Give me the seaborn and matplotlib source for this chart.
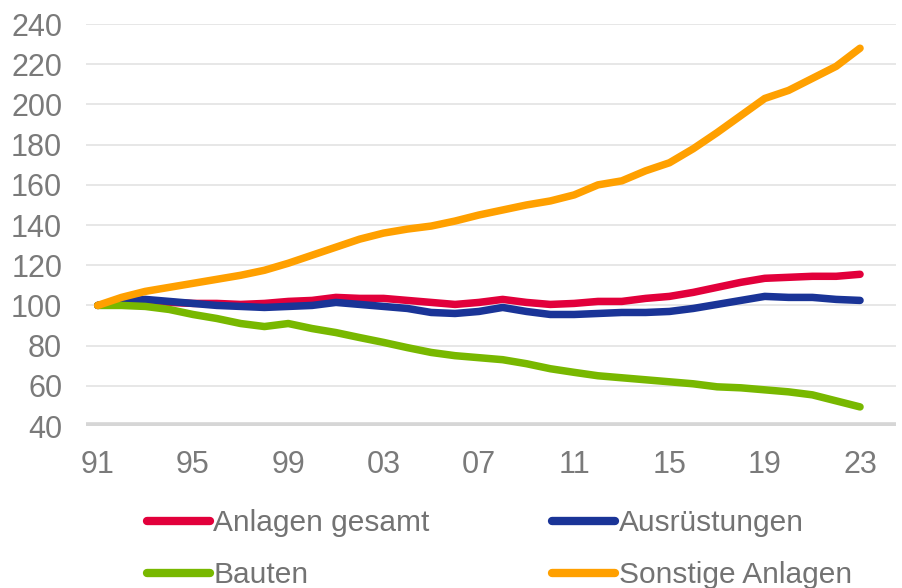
import matplotlib
matplotlib.use("Agg")
import matplotlib.pyplot as plt
import seaborn as sns
import pandas as pd

years = list(range(1991, 2024))

anlagen_gesamt = [100, 102, 102.5, 101.5, 101, 101, 100.5, 101, 102, 102.5, 104, 103.5, 103.5, 102.5,
                  101.5, 100.5, 101.5, 103, 101.5, 100.5, 101, 102, 102, 103.5, 104.5, 106.5, 109,
                  111.5, 113.5, 114, 114.5, 114.5, 115.5]
ausruestungen = [100, 102, 103, 102, 101, 100, 99.5, 99, 99.5, 100, 101.5, 100.5, 99.5, 98.5,
                 96.5, 96, 97, 99, 97, 95.5, 95.5, 96, 96.5, 96.5, 97, 98.5, 100.5,
                 102.5, 104.5, 104, 104, 103, 102.5]
bauten = [100, 100, 99.5, 98, 95.5, 93.5, 91, 89.5, 91, 88.5, 86.5, 84, 81.6, 79,
          76.6, 75, 74, 73, 71, 68.5, 66.7, 65, 64, 63, 62, 61, 59.5,
          59, 58, 57, 55.5, 52.5, 49.5]
sonstige = [100, 104, 107, 109, 111, 113, 115, 117.5, 121, 125, 129, 133, 136, 138,
            139.5, 142, 145, 147.5, 150, 152, 155, 160, 162, 167, 171, 178, 186,
            194.5, 203, 207, 213, 219, 228]

series_names = ["Anlagen gesamt", "Ausrüstungen", "Bauten", "Sonstige Anlagen"]
colors = ["#E2003B", "#1A3497", "#78B800", "#FFA000"]
tick_years = list(range(1991, 2024, 4))
tick_labels = [f"{y % 100:02d}" for y in tick_years]

df = pd.DataFrame({
    "Jahr": years * 4,
    "Wert": anlagen_gesamt + ausruestungen + bauten + sonstige,
    "Reihe": sum([[n] * len(years) for n in series_names], []),
})

sns.set_theme(style="white")
plt.rcParams["font.family"] = ["Liberation Sans", "DejaVu Sans"]

fig = plt.figure(figsize=(9.03, 5.88), dpi=100)
ax = fig.add_axes([0.095, 0.2755, 0.897, 0.6835])

for y in range(60, 260, 20):
    ax.axhline(y, color="#e3e3e3", lw=1.2, zorder=0)
ax.axhline(40, color="#d6d6d6", lw=5.5, zorder=1)

sns.lineplot(data=df, x="Jahr", y="Wert", hue="Reihe", hue_order=series_names,
             palette=colors, linewidth=5.4, ax=ax, legend=True)
for line in ax.get_lines():
    line.set_solid_capstyle("round")

ax.set_xlim(1990.5, 2024.5)
ax.set_ylim(40, 240)
ax.set_yticks(range(40, 260, 20))
ax.set_xticks(tick_years)
ax.set_xticklabels(tick_labels)
ax.set_xlabel("")
ax.set_ylabel("")
ax.tick_params(axis="both", labelsize=22, colors="#7a7a7a", length=0)
ax.tick_params(axis="y", pad=17)
ax.tick_params(axis="x", pad=17)
for s in ax.spines.values():
    s.set_visible(False)

handles, labels = ax.get_legend_handles_labels()
ax.get_legend().remove()
order = [0, 2, 1, 3]
leg = fig.legend([handles[i] for i in order], [labels[i] for i in order], ncol=2,
                 loc="upper left", bbox_to_anchor=(0.163, 0.134), frameon=False,
                 fontsize=21.5, handlelength=2.1, handletextpad=0.12,
                 columnspacing=4.1, labelspacing=0.8, borderpad=0, borderaxespad=0)
for t in leg.get_texts():
    t.set_color("#737373")
for h in leg.get_lines():
    h.set_linewidth(6)
    h.set_solid_capstyle("round")

fig.savefig("out.png", dpi=100)
